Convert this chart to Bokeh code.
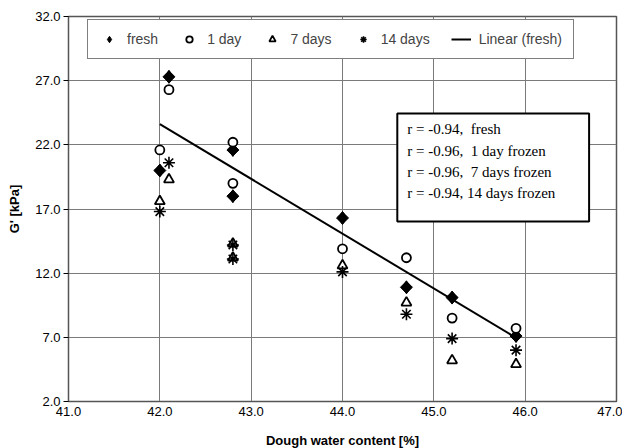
import numpy as np
from bokeh.plotting import figure
from bokeh.models import FixedTicker, PrintfTickFormatter, Label, BoxAnnotation, Legend
from bokeh.embed import file_html
from bokeh.resources import INLINE

# ---- data ----
x_fresh = [42.1, 42.0, 42.8, 42.8, 44.0, 44.7, 45.2, 45.9]
g_fresh = [27.3, 20.0, 21.6, 18.0, 16.3, 10.9, 10.1, 7.1]
x_1day = [42.1, 42.0, 42.8, 42.8, 44.0, 44.7, 45.2, 45.9]
g_1day = [26.3, 21.6, 22.2, 19.0, 13.9, 13.2, 8.5, 7.7]
x_7days = [42.1, 42.0, 42.8, 42.8, 44.0, 44.7, 45.2, 45.9]
g_7days = [19.3, 17.6, 14.3, 13.2, 12.6, 9.7, 5.2, 4.9]
x_14days = [42.1, 42.0, 42.8, 42.8, 44.0, 44.7, 45.2, 45.9]
g_14days = [20.6, 16.8, 14.2, 13.1, 12.1, 8.8, 6.9, 6.0]

x_ticks = [41.0, 42.0, 43.0, 44.0, 45.0, 46.0, 47.0]
y_ticks = [2.0, 7.0, 12.0, 17.0, 22.0, 27.0, 32.0]

r_lines = ["r = -0.94,\u00a0 fresh",
           "r = -0.96,\u00a0 1 day frozen",
           "r = -0.96,\u00a0 7 days frozen",
           "r = -0.94, 14 days frozen"]

# ---- figure ----
p = figure(output_backend="svg", toolbar_location=None,
           frame_width=548, frame_height=385,
           x_range=(41.0, 47.0), y_range=(2.0, 32.0),
           min_border_left=68, min_border_top=16, min_border_right=6, min_border_bottom=37,
           background_fill_color="white", border_fill_color="white")

SANS = "Liberation Sans"
p.xaxis.ticker = FixedTicker(ticks=x_ticks)
p.yaxis.ticker = FixedTicker(ticks=y_ticks)
p.xaxis.formatter = PrintfTickFormatter(format="%.1f")
p.yaxis.formatter = PrintfTickFormatter(format="%.1f")
for ax in (p.xaxis, p.yaxis):
    ax.major_label_text_font = SANS
    ax.major_label_text_font_size = "13px"
    ax.major_label_text_color = "black"
    ax.axis_label_text_font = SANS
    ax.axis_label_text_font_size = "13px"
    ax.axis_label_text_font_style = "bold"
    ax.axis_label_text_color = "black"
    ax.minor_tick_line_color = None
    ax.axis_line_color = "#555555"
p.xaxis.axis_label = "Dough water content [%]"
p.yaxis.axis_label = "G' [kPa]"
p.xaxis.major_tick_out = 0
p.xaxis.major_tick_in = 0
p.yaxis.major_tick_out = 5
p.yaxis.major_tick_in = 0
p.yaxis.major_tick_line_color = "black"
p.xaxis.major_label_standoff = 5
p.xaxis.axis_label_standoff = 14
p.yaxis.major_label_standoff = 3
p.yaxis.axis_label_standoff = 10

p.grid.grid_line_color = "#7a7a7a"
p.grid.grid_line_width = 1
p.outline_line_color = "#555555"
p.outline_line_width = 1.5

# trend line of fresh data
coef = np.polyfit(x_fresh, g_fresh, 1)
tx = [min(x_fresh), max(x_fresh)]
ty = [coef[0] * v + coef[1] for v in tx]

# diamond glyph used for the legend (sits under the rotated squares)
r_f_leg = p.scatter(x_fresh, g_fresh, marker="diamond", size=13,
                    fill_color="black", line_color="black")
r_f = p.scatter(x_fresh, g_fresh, marker="square", angle=np.pi / 4, size=8.5,
                fill_color="black", line_color="black")
r_1 = p.scatter(x_1day, g_1day, marker="circle", size=9, fill_color="white",
                line_color="black", line_width=1.8)
r_7 = p.scatter(x_7days, g_7days, marker="triangle", size=10, fill_color="white",
                line_color="black", line_width=1.8)
r_14 = p.scatter(x_14days, g_14days, marker="asterisk", size=12,
                 line_color="black", line_width=1.6)
r_lin = p.line(tx, ty, line_color="black", line_width=2)

legend = Legend(items=[("fresh", [r_f_leg]), ("1 day", [r_1]), ("7 days", [r_7]),
                       ("14 days", [r_14]), ("Linear (fresh)", [r_lin])],
                orientation="horizontal", location=(19, 342),
                label_text_font=SANS, label_text_font_size="14px",
                padding=11, spacing=21, glyph_width=20, glyph_height=16,
                label_standoff=8, border_line_color="black", border_line_width=1,
                background_fill_color="white", background_fill_alpha=1.0,
                margin=0)
p.add_layout(legend, "center")

# correlation text box
box = BoxAnnotation(left=44.60, right=46.70, top=24.44, bottom=16.02,
                    fill_color="white", fill_alpha=1.0,
                    line_color="black", line_alpha=1.0, line_width=2, level="overlay")
p.add_layout(box)
for i, t in enumerate(r_lines):
    p.add_layout(Label(x=44.71, y=23.2 - i * 1.65, text=t,
                       text_font="Liberation Serif", text_font_size="15px",
                       text_baseline="middle", text_color="black", level="overlay"))

open("out.html", "w").write(file_html(p, INLINE))
